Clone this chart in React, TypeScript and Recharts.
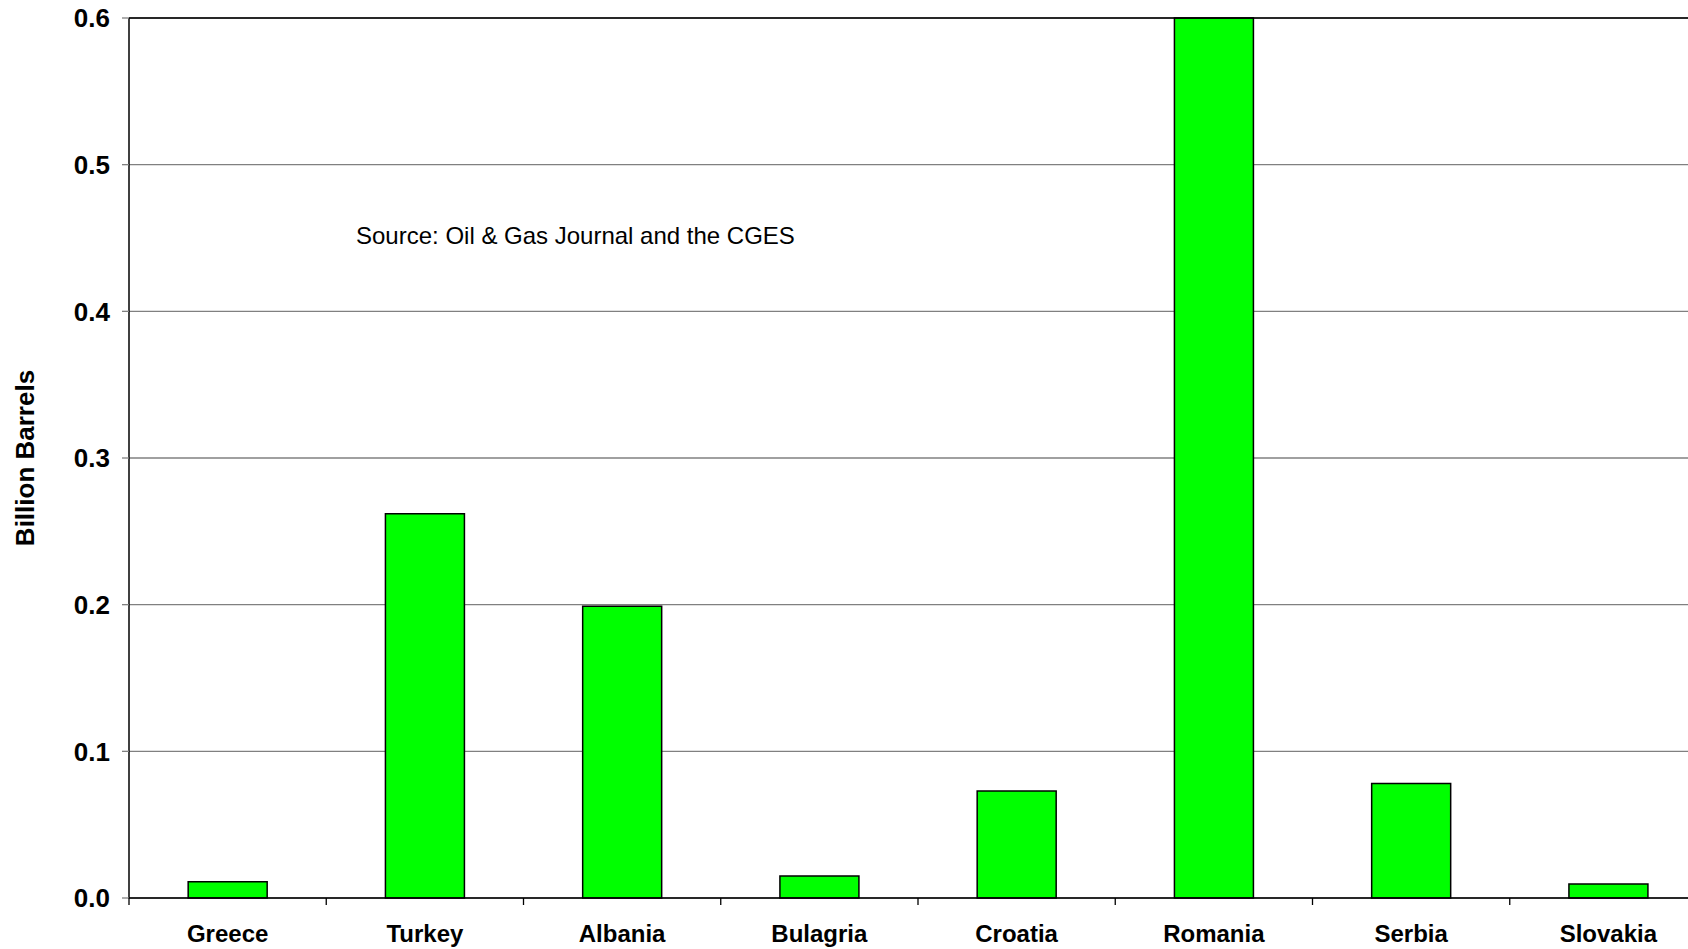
import React from 'react';
import { BarChart, Bar, XAxis, YAxis, CartesianGrid, ReferenceLine } from 'recharts';

const countries = ['Greece', 'Turkey', 'Albania', 'Bulagria', 'Croatia', 'Romania', 'Serbia', 'Slovakia'];
const reserves = [0.011, 0.262, 0.199, 0.015, 0.073, 0.6, 0.078, 0.0095];
const yTicks = [0, 0.1, 0.2, 0.3, 0.4, 0.5, 0.6];

const data = countries.map((name, i) => ({ name, value: reserves[i] }));

const font = '"Liberation Sans", Arial, sans-serif';

// category label plus a tick mark on the left edge of each category band
const CategoryTick = (props: any) => {
  const { x, y, payload } = props;
  const edge = x - (payload.offset || 0);
  return (
    <g>
      <line x1={edge} x2={edge} y1={y - 27} y2={y - 20} stroke="#000" strokeWidth={1.3} />
      <text
        x={x}
        y={y}
        dy="0.71em"
        textAnchor="middle"
        fill="#000"
        fontSize={24}
        fontWeight="bold"
        fontFamily={font}
      >
        {payload.value}
      </text>
    </g>
  );
};

const App: React.FC = () => {
  return (
    <div style={{ position: 'absolute', left: 0, top: 0, width: 1688, height: 949, overflow: 'hidden', background: '#fff' }}>
      <BarChart
        width={1714}
        height={949}
        data={data}
        margin={{ top: 18, right: 7, bottom: 0, left: 0 }}
        barCategoryGap="30%"
      >
        <CartesianGrid vertical={false} stroke="#808080" strokeWidth={1.3} />
        <ReferenceLine y={0.6} stroke="#000" strokeWidth={1.5} />
        <XAxis
          dataKey="name"
          height={51}
          axisLine={{ stroke: '#000', strokeWidth: 1.5 }}
          tickLine={false}
          tickSize={7}
          tickMargin={20}
          interval={0}
          tick={<CategoryTick />}
        />
        <YAxis
          width={129}
          domain={[0, 0.6]}
          ticks={yTicks}
          tickFormatter={(v: number) => v.toFixed(1)}
          axisLine={{ stroke: '#000', strokeWidth: 1.5 }}
          tickLine={{ stroke: '#808080', strokeWidth: 1.3 }}
          tickSize={7}
          tickMargin={12}
          tick={{ fill: '#000', fontSize: 26, fontWeight: 'bold', fontFamily: font }}
          label={{
            value: 'Billion Barrels',
            angle: -90,
            position: 'center',
            dx: -40,
            style: { fill: '#000', fontSize: 26, fontWeight: 'bold', fontFamily: font },
          }}
        />
        <Bar dataKey="value" fill="#00ff00" stroke="#000" strokeWidth={1.5} isAnimationActive={false} />
      </BarChart>
      <div
        style={{
          position: 'absolute',
          left: 356,
          top: 222,
          fontFamily: font,
          fontSize: 24,
          color: '#000',
          whiteSpace: 'nowrap',
          lineHeight: '28px',
        }}
      >
        Source: Oil &amp; Gas Journal and the CGES
      </div>
    </div>
  );
};

export default App;
